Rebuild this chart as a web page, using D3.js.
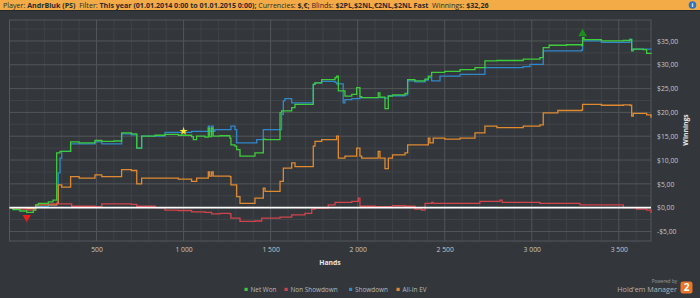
<!DOCTYPE html>
<html>
<head>
<meta charset="utf-8">
<script src="https://cdn.jsdelivr.net/npm/d3@7"></script>
<style>
    body { margin: 0; background: #33373b; }
    text { font-family: "Open Sans", "DejaVu Sans", sans-serif; }
</style>
</head>
<body>
<svg id="chart"></svg>
<script>
// [hands, dollars]
let netWon = [
    [0, 0], [20, -0.4], [60, -0.7], [99, -1.0], [137, -0.5], [150, 0.6], [166, 0.9], [223, 1.2], [250, 1.6],
    [271, 11.5], [290, 11.8], [351, 13.8], [400, 13.6], [491, 14.1], [530, 13.9], [600, 14.0], [644, 15.7],
    [700, 15.5], [731, 12.5], [759, 15.0], [836, 15.2], [893, 15.4], [970, 15.2], [1046, 14.9], [1056, 14.3],
    [1075, 15.0], [1123, 14.8], [1142, 16.7], [1150, 14.9], [1161, 16.7], [1170, 15.0], [1209, 15.1],
    [1266, 14.6], [1272, 13.2], [1295, 12.9], [1305, 12.2], [1324, 10.8], [1410, 11.5], [1449, 11.5],
    [1458, 14.4], [1468, 14.3], [1554, 19.9], [1563, 20.3], [1621, 21.0], [1640, 21.7], [1736, 21.7],
    [1745, 25.9], [1755, 26.2], [1793, 26.9], [1870, 27.3], [1879, 27.6], [1889, 24.5], [1927, 23.4],
    [1966, 23.8], [1994, 25.2], [2013, 23.3], [2023, 23.1], [2118, 24.1], [2128, 23.2], [2157, 20.8],
    [2176, 23.4], [2200, 23.7], [2272, 24.0], [2287, 26.9], [2329, 26.6], [2387, 27.0], [2406, 27.6],
    [2425, 28.4], [2500, 28.6], [2588, 29.0], [2674, 29.4], [2731, 30.8], [2800, 30.9], [2951, 31.2],
    [3047, 31.5], [3066, 33.6], [3100, 34.1], [3200, 34.2], [3287, 34.0], [3292, 35.7], [3300, 35.3],
    [3400, 35.0], [3526, 35.1], [3564, 35.3], [3574, 32.9], [3583, 33.3], [3640, 33.2], [3660, 32.4], [3685, 32.26]
]

let nonShowdown = [
    [0, 0], [20, -0.3], [99, -0.5], [150, 0.6], [166, 0.8], [348, 0.8], [357, 0.3], [491, 0.2], [530, 0.8],
    [700, 0.7], [731, 0.3], [836, 0.0], [893, -0.5], [970, -0.6], [1046, -0.9], [1123, -1.0], [1161, -1.3],
    [1209, -1.2], [1266, -1.3], [1272, -2.2], [1324, -2.9], [1410, -2.8], [1449, -2.2], [1554, -2.0],
    [1621, -1.5], [1697, -1.2], [1736, -0.3], [1755, -0.1], [1831, 0.6], [1870, 1.1], [1966, 1.3],
    [2004, 2.0], [2013, 0.3], [2100, 0.2], [2200, 0.4], [2272, 0.3], [2329, -0.3], [2368, -0.5], [2387, 0.9],
    [2425, 1.1], [2434, 0.9], [2588, 0.9], [2702, 1.3], [2817, 1.6], [2830, 1.1], [2990, 1.1], [3047, 0.9],
    [3277, 0.6], [3526, 0.0], [3602, -0.3], [3660, -0.5], [3685, -1.1]
]

let showdown = [
    [0, 0], [99, -0.2], [150, 0.2], [223, 0.6], [271, 0.9], [280, 7.3], [290, 10.4], [300, 11.8], [351, 13.4],
    [491, 13.8], [530, 13.4], [644, 15.5], [700, 15.3], [731, 12.5], [759, 15.0], [893, 15.8], [970, 15.8],
    [1046, 16.0], [1123, 16.0], [1142, 17.1], [1150, 16.0], [1161, 17.1], [1170, 16.0], [1180, 16.4],
    [1266, 16.4], [1272, 17.1], [1295, 16.4], [1305, 13.6], [1410, 13.6], [1420, 14.3], [1449, 14.3],
    [1458, 16.4], [1554, 16.4], [1563, 19.6], [1573, 22.4], [1582, 22.9], [1621, 22.0], [1745, 25.9],
    [1755, 26.2], [1793, 26.5], [1870, 26.3], [1879, 26.0], [1917, 22.0], [1927, 22.7], [1966, 22.9],
    [2013, 23.1], [2118, 23.1], [2157, 23.0], [2176, 23.5], [2272, 23.7], [2287, 26.6], [2329, 26.4],
    [2387, 26.8], [2406, 27.3], [2425, 26.6], [2473, 27.6], [2588, 28.0], [2731, 29.4], [2951, 29.6],
    [2990, 30.1], [3066, 32.9], [3287, 33.1], [3292, 35.0], [3400, 34.7], [3564, 35.4], [3574, 33.3], [3685, 33.4]
]

let allInEV = [
    [0, 0], [99, -0.2], [150, 0.6], [271, 0.9], [280, 4.8], [300, 4.3], [351, 6.5], [400, 6.2], [491, 6.9],
    [530, 6.5], [644, 8.0], [700, 7.8], [731, 5.0], [759, 6.2], [970, 6.0], [1046, 5.5], [1075, 6.2],
    [1123, 6.2], [1142, 7.5], [1150, 6.6], [1161, 7.5], [1170, 6.6], [1266, 6.5], [1272, 4.8], [1305, 2.3],
    [1324, 0.9], [1410, 2.0], [1449, 2.0], [1458, 4.1], [1468, 3.4], [1554, 5.5], [1573, 8.3], [1621, 9.4],
    [1640, 8.6], [1736, 8.6], [1745, 12.9], [1755, 13.9], [1793, 14.3], [1870, 14.3], [1879, 15.0],
    [1889, 10.4], [1927, 10.8], [1994, 12.5], [2013, 10.8], [2023, 10.4], [2118, 11.8], [2128, 10.4],
    [2157, 8.2], [2176, 10.4], [2200, 11.1], [2272, 11.5], [2287, 13.2], [2387, 13.2], [2406, 14.6],
    [2415, 13.6], [2434, 14.6], [2500, 14.4], [2588, 14.6], [2674, 15.7], [2731, 17.1], [2800, 16.8],
    [2951, 17.1], [3047, 17.4], [3066, 19.9], [3150, 20.4], [3287, 20.5], [3292, 21.7], [3400, 21.5],
    [3526, 21.6], [3564, 21.5], [3574, 19.2], [3583, 19.8], [3660, 19.5], [3685, 18.9]
]

let xTicks = [500, 1000, 1500, 2000, 2500, 3000, 3500]
let yTicks = [-5, 0, 5, 10, 15, 20, 25, 30, 35]
let starHand = 1000

let series = [
    { name: "Net Won", data: netWon, color: "#3ccc3c" },
    { name: "Non Showdown", data: nonShowdown, color: "#d2444c" },
    { name: "Showdown", data: showdown, color: "#3088cc" },
    { name: "All-In EV", data: allInEV, color: "#e08a30" }
]
let drawOrder = [2, 3, 1, 0].map(i => series[i])

let width = 700
let height = 298
let plot = { left: 9.5, right: 651, top: 20, bottom: 241 }

let svg = d3.select("#chart")
    .attr("width", width)
    .attr("height", height)

svg.append("rect")
    .attr("width", width)
    .attr("height", height)
    .attr("fill", "#33373b")

// header
svg.append("rect")
    .attr("width", width)
    .attr("height", 10)
    .attr("fill", "#f3ab47")
svg.append("rect")
    .attr("y", 10)
    .attr("width", width)
    .attr("height", 1)
    .attr("fill", "#23262a")

let header = svg.append("text")
    .attr("x", 3)
    .attr("y", 7.6)
    .attr("font-size", 7.1)
    .attr("fill", "#2a2a2a")
let headerParts = [
    ["Player: ", 400], ["AndrBluk (PS)  ", 700], ["Filter: ", 400],
    ["This year (01.01.2014 0:00 to 01.01.2015 0:00); ", 700], ["Currencies: ", 400], ["$,€; ", 700],
    ["Blinds: ", 400], ["$2PL,$2NL,€2NL,$2NL Fast  ", 700], ["Winnings: ", 400], ["$32,26", 700]
]
header.selectAll("tspan")
    .data(headerParts)
    .enter()
    .append("tspan")
    .attr("font-weight", d => d[1])
    .style("white-space", "pre")
    .text(d => d[0])

svg.append("circle")
    .attr("cx", 692.5)
    .attr("cy", 5)
    .attr("r", 3.8)
    .attr("fill", "#2d73c4")
svg.append("text")
    .attr("x", 692.5)
    .attr("y", 7.2)
    .attr("text-anchor", "middle")
    .attr("font-size", 6)
    .attr("font-weight", 700)
    .attr("fill", "#fff")
    .text("i")

let xScale = d3.scaleLinear()
    .domain([0, 3685])
    .range([plot.left, plot.right])

let yScale = d3.scaleLinear()
    .domain([-7, 39.4])
    .range([plot.bottom, plot.top])

// grid
let grid = svg.append("g")
grid.selectAll(".vminor")
    .data(d3.range(100, 3685, 100).filter(d => d % 500 != 0))
    .enter()
    .append("line")
    .attr("x1", d => xScale(d))
    .attr("x2", d => xScale(d))
    .attr("y1", plot.top)
    .attr("y2", plot.bottom)
    .attr("stroke", "#3f4347")
    .attr("stroke-width", 1)
grid.selectAll(".hminor")
    .data(d3.range(-5, 39, 2.5).filter(d => d % 5 != 0))
    .enter()
    .append("line")
    .attr("x1", plot.left)
    .attr("x2", plot.right)
    .attr("y1", d => yScale(d))
    .attr("y2", d => yScale(d))
    .attr("stroke", "#3f4347")
grid.selectAll(".vmajor")
    .data(xTicks)
    .enter()
    .append("line")
    .attr("x1", d => xScale(d))
    .attr("x2", d => xScale(d))
    .attr("y1", plot.top)
    .attr("y2", plot.bottom)
    .attr("stroke", "#52565b")
grid.selectAll(".hmajor")
    .data(yTicks)
    .enter()
    .append("line")
    .attr("x1", plot.left)
    .attr("x2", plot.right)
    .attr("y1", d => yScale(d))
    .attr("y2", d => yScale(d))
    .attr("stroke", "#52565b")

svg.append("rect")
    .attr("x", plot.left)
    .attr("y", plot.top)
    .attr("width", plot.right - plot.left)
    .attr("height", plot.bottom - plot.top)
    .attr("fill", "none")
    .attr("stroke", "#55595e")

// axes
let fmtHands = d => d3.format(",")(d).replace(",", " ")
let fmtMoney = d => (d < 0 ? "-$" : "$") + d3.format(".2f")(Math.abs(d)).replace(".", ",")

let xAxis = d3.axisBottom(xScale)
    .tickValues(xTicks)
    .tickFormat(fmtHands)
    .tickSize(0)
    .tickPadding(6)
svg.append("g")
    .attr("transform", `translate(0, ${plot.bottom})`)
    .call(xAxis)
let yAxis = d3.axisRight(yScale)
    .tickValues(yTicks)
    .tickFormat(fmtMoney)
    .tickSize(0)
    .tickPadding(6)
svg.append("g")
    .attr("transform", `translate(${plot.right}, 0)`)
    .call(yAxis)
svg.selectAll(".domain").remove()
svg.selectAll(".tick text")
    .attr("fill", "#c4c6c8")
    .attr("font-size", 6.8)
    .attr("font-family", "'Open Sans', sans-serif")

svg.append("text")
    .attr("x", 330)
    .attr("y", 265)
    .attr("text-anchor", "middle")
    .attr("font-size", 6.8)
    .attr("font-weight", 700)
    .attr("fill", "#e6e6e6")
    .text("Hands")
svg.append("text")
    .attr("transform", "translate(688, 130) rotate(-90)")
    .attr("text-anchor", "middle")
    .attr("font-size", 6.8)
    .attr("font-weight", 700)
    .attr("fill", "#e6e6e6")
    .text("Winnings")

// lines
let line = d3.line()
    .x(d => xScale(d[0]))
    .y(d => yScale(d[1]))
    .curve(d3.curveStepAfter)

svg.append("g")
    .selectAll("path")
    .data(drawOrder)
    .enter()
    .append("path")
    .attr("d", d => line(d.data))
    .attr("fill", "none")
    .attr("stroke", d => d.color)
    .attr("stroke-width", 1.3)

svg.append("line")
    .attr("x1", plot.left)
    .attr("x2", plot.right)
    .attr("y1", yScale(0))
    .attr("y2", yScale(0))
    .attr("stroke", "#ffffff")
    .attr("stroke-width", 1.6)

// markers
let minPoint = d3.least(netWon, d => d[1])
let maxPoint = d3.greatest(netWon, d => d[1])
let starPoint = netWon.filter(d => d[0] <= starHand).pop()

svg.append("path")
    .attr("d", d3.symbol(d3.symbolTriangle, 30)())
    .attr("transform", `translate(${xScale(minPoint[0])}, ${yScale(minPoint[1]) + 5}) rotate(180)`)
    .attr("fill", "#e81c1c")
svg.append("path")
    .attr("d", d3.symbol(d3.symbolTriangle, 34)())
    .attr("transform", `translate(${xScale(maxPoint[0])}, ${yScale(maxPoint[1]) - 4})`)
    .attr("fill", "#1f8a1f")
svg.append("path")
    .attr("d", d3.symbol(d3.symbolStar, 22)())
    .attr("transform", `translate(${xScale(starHand)}, ${yScale(starPoint[1]) - 4})`)
    .attr("fill", "#f5e62a")

// legend
let legendX = [244.5, 284.5, 349, 396.5]
let legend = svg.append("g")
    .selectAll("g")
    .data(series)
    .enter()
    .append("g")
    .attr("transform", (d, i) => `translate(${legendX[i]}, 290)`)
legend.append("rect")
    .attr("x", 0)
    .attr("y", -2.2)
    .attr("width", 3.2)
    .attr("height", 3.2)
    .attr("fill", d => d.color)
legend.append("text")
    .attr("x", 6)
    .attr("y", 2)
    .attr("font-size", 6.4)
    .attr("fill", "#b8babc")
    .text(d => d.name)

// logo
svg.append("text")
    .attr("x", 677)
    .attr("y", 283)
    .attr("text-anchor", "end")
    .attr("font-size", 4.6)
    .attr("fill", "#9a9ca0")
    .text("Powered by")
svg.append("text")
    .attr("x", 677)
    .attr("y", 291.5)
    .attr("text-anchor", "end")
    .attr("font-size", 7.2)
    .attr("fill", "#b0b2b4")
    .text("Hold'em Manager")
svg.append("rect")
    .attr("x", 680.5)
    .attr("y", 281.5)
    .attr("width", 12)
    .attr("height", 12)
    .attr("rx", 2.5)
    .attr("fill", "#e8772a")
svg.append("text")
    .attr("x", 686.5)
    .attr("y", 291)
    .attr("text-anchor", "middle")
    .attr("font-size", 10)
    .attr("font-weight", 700)
    .attr("fill", "#fff")
    .text("2")
</script>
</body>
</html>
